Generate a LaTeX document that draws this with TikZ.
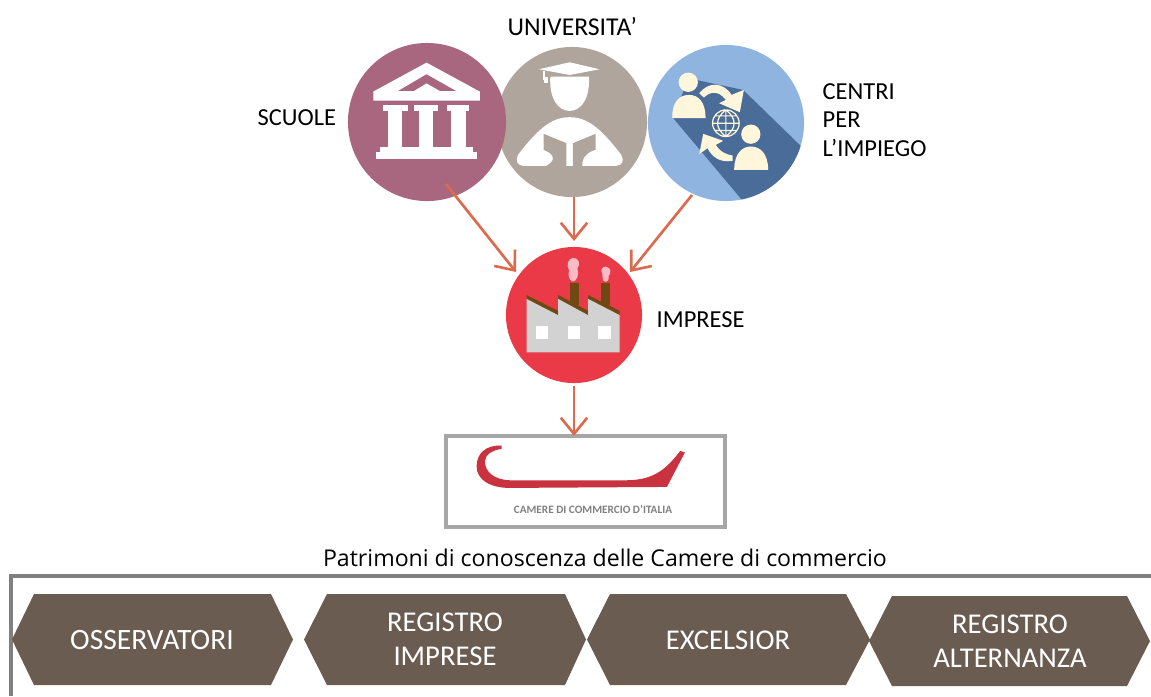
\documentclass[tikz,border=0pt]{standalone}
\usepackage{fontspec}
\setmainfont{Carlito}
\newfontfamily\opensans{Open Sans}
\usetikzlibrary{arrows.meta}
\definecolor{plum}{HTML}{A8677F}
\definecolor{taupe}{HTML}{B0A59D}
\definecolor{skyb}{HTML}{8FB4E0}
\definecolor{deepb}{HTML}{4A6C99}
\definecolor{cream}{HTML}{FFF6DC}
\definecolor{firered}{HTML}{EA3A47}
\definecolor{chim}{HTML}{6E4A12}
\definecolor{smoke}{HTML}{F9BCC4}
\definecolor{fgrey}{HTML}{D2D2D2}
\definecolor{arrowc}{HTML}{DD6A4C}
\definecolor{hexc}{HTML}{6B5C52}
\definecolor{boxgrey}{HTML}{A6A6A6}
\definecolor{framegrey}{HTML}{808080}
\definecolor{logored}{HTML}{C9323F}
\tikzset{
  px/.style={x=0.01cm,y=-0.01cm},
  zoomed/.style={x=0.0033333cm,y=-0.0033333cm},
  disc/.style={circle,inner sep=0pt,outer sep=0pt,minimum size=#1},
  lab/.style={font=\fontsize{6.95pt}{8.1pt}\selectfont,text=black,inner sep=0pt,align=left},
  conn/.style={draw=arrowc,line width=0.75pt,-{Straight Barb[length=4.6pt,width=7.5pt,line width=0.75pt]}},
  hexlab/.style={font=\fontsize{8.15pt}{9.65pt}\selectfont,text=white,inner sep=0pt,align=center},
  hexfill/.style={fill=hexc},
}
\newcommand{\hexa}[6]{\fill[hexfill] (#1,#5/2+#6/2) -- (#2,#5) -- (#3,#5) -- (#4,#5/2+#6/2) -- (#3,#6) -- (#2,#6) -- cycle;}
\begin{document}
\begin{tikzpicture}[px]
\useasboundingbox (0,0) rectangle (1151,696);
% circles
\node[disc=1.50cm,fill=taupe] (uni) at (572,122) {};
\node[disc=1.58cm,fill=plum] (sc) at (427,122) {};
\node[disc=1.56cm,fill=skyb] (ce) at (726,123) {};
\node[disc=1.36cm,fill=firered] (fa) at (574,315) {};
% temple
\begin{scope}[shift={(340,30)},zoomed]
\fill[white] (100,212) -- (100,185) -- (260,98) -- (420,185) -- (420,212) -- cycle;
\fill[plum] (175,183) -- (260,133) -- (348,183) -- (300,183) -- (260,160) -- (222,183) -- cycle;
\fill[white] (130,225) rectangle (205,242);
\fill[white] (222,225) rectangle (293,242);
\fill[white] (322,225) rectangle (388,242);
\fill[white] (143,242) rectangle (185,352);
\fill[white] (236,242) rectangle (280,352);
\fill[white] (335,242) rectangle (378,352);
\fill[white] (120,352) rectangle (400,368);
\fill[white] (107,368) rectangle (413,388);
% student
\fill[white] (632,140) -- (748,140) .. controls (752,205) and (725,243) .. (690,243) .. controls (655,243) and (628,205) .. (632,140) -- cycle;
\fill[white] (598,118) -- (690,97) -- (780,118) -- (690,135) -- cycle;
\fill[white] (610,122) rectangle (615,150);
\fill[white] (612,140) rectangle (624,158);
\fill[white] (690,262) .. controls (640,262) and (600,290) .. (535,375) .. controls (525,392) and (535,408) .. (550,408) -- (830,408) .. controls (848,408) and (855,392) .. (845,375) .. controls (780,290) and (740,262) .. (690,262) -- cycle;
\fill[taupe] (612,312) -- (680,340) -- (680,408) -- (620,408) .. controls (645,395) and (650,375) .. (612,360) -- cycle;
\fill[taupe] (768,312) -- (700,340) -- (700,408) -- (728,408) .. controls (725,385) and (745,365) .. (768,360) -- cycle;
\end{scope}
% employment centres icon
\begin{scope}
\clip (ce) circle (78);
\begin{scope}[shift={(640,35)},zoomed]
\fill[deepb] (145,130) -- (310,165) -- (490,340) -- (490,500) -- (310,500) -- (100,250) -- cycle;
\fill[cream] (145,142) circle (29);
\fill[cream] (97,250) .. controls (95,200) and (120,180) .. (147,180) .. controls (175,180) and (197,200) .. (197,250) -- cycle;
\fill[cream] (333,298) circle (29);
\fill[cream] (283,405) .. controls (283,355) and (308,335) .. (333,335) .. controls (360,335) and (385,355) .. (385,405) -- cycle;
\fill[cream] (178,175) .. controls (205,140) and (250,140) .. (275,180) -- (312,165) -- (300,232) -- (238,205) -- (258,195) .. controls (235,165) and (210,170) .. (192,188) -- cycle;
\fill[cream] (278,378) .. controls (240,385) and (215,365) .. (203,340) -- (178,358) -- (190,297) -- (250,318) -- (228,330) .. controls (240,350) and (255,358) .. (278,362) -- cycle;
\fill[deepb] (258,265) circle (42);
\draw[cream,line width=0.35pt] (258,265) circle (40) (218,265) -- (298,265) (258,225) -- (258,305) (226,243) -- (290,243) (226,287) -- (290,287) (258,225) .. controls (225,250) and (225,280) .. (258,305) (258,225) .. controls (291,250) and (291,280) .. (258,305);
\end{scope}
\end{scope}
% factory
\begin{scope}[shift={(430,230)},zoomed]
\fill[smoke] (430,84) .. controls (450,85) and (452,105) .. (443,115) .. controls (450,135) and (440,155) .. (428,155) .. controls (415,150) and (415,130) .. (418,122) .. controls (408,105) and (415,85) .. (430,84) -- cycle;
\fill[smoke] (528,110) .. controls (545,112) and (545,130) .. (537,138) .. controls (540,150) and (530,158) .. (525,155) .. controls (515,150) and (520,140) .. (518,132) .. controls (510,120) and (518,110) .. (528,110) -- cycle;
\fill[chim] (420,160) rectangle (447,225);
\fill[chim] (515,160) rectangle (542,225);
\fill[chim] (290,195) -- (385,243) -- (385,256) -- (290,207) -- cycle;
\fill[chim] (385,195) -- (475,243) -- (475,256) -- (385,207) -- cycle;
\fill[chim] (475,195) -- (570,243) -- (570,256) -- (475,207) -- cycle;
\fill[fgrey] (290,207) -- (385,256) -- (385,207) -- (475,256) -- (475,207) -- (570,256) -- (570,368) -- (290,368) -- cycle;
\fill[white] (318,288) rectangle (356,326);
\fill[white] (414,288) rectangle (452,326);
\fill[white] (506,288) rectangle (544,326);
% logo swoosh
\fill[logored] (215,648) .. controls (170,645) and (140,670) .. (140,710) .. controls (140,750) and (180,775) .. (240,775) -- (712,772) -- (766,668) -- (752,664) .. controls (715,710) and (680,752) .. (590,752) -- (240,752) .. controls (190,750) and (165,725) .. (165,695) .. controls (165,675) and (190,660) .. (215,658) -- cycle;
\end{scope}
% box
\node[draw=boxgrey,line width=1.1pt,minimum width=2.79cm,minimum height=0.91cm,inner sep=0pt,outer sep=0pt] (cam) at (585.5,481.5) {};
\node[font=\fontsize{3.2pt}{3.5pt}\selectfont\bfseries,text=gray,inner sep=0pt] (camt) at (593,509) {CAMERE DI COMMERCIO D'ITALIA};
% labels
\node[lab,anchor=west] (l1) at (257,118) {SCUOLE};
\node[lab,anchor=west,font=\fontsize{7.3pt}{8.1pt}\selectfont] (l2) at (507,27) {UNIVERSITA’};
\node[lab,anchor=west] (l3) at (822,120) {CENTRI\\PER\\L’IMPIEGO};
\node[lab,anchor=west] (l4) at (656,320) {IMPRESE};
% connectors
\coordinate (s1) at (446,184);
\coordinate (e1) at (516,272);
\coordinate (s2) at (574,197);
\coordinate (e2) at (574,241);
\coordinate (s3) at (692,195);
\coordinate (e3) at (630,272);
\coordinate (s4) at (574,386);
\draw[conn] (s1) -- (e1);
\draw[conn] (s2) -- (e2);
\draw[conn] (s3) -- (e3);
\draw[conn] (s4) -- (cam.north -| s4);
% bottom
\node[font=\opensans\fontsize{6.57pt}{8pt}\selectfont,inner sep=0pt,text=black] (pat) at (605,558) {Patrimoni di conoscenza delle Camere di commercio};
\coordinate (fa1) at (11,696);
\coordinate (fa2) at (11,576);
\coordinate (fa3) at (1151,576);
\draw[framegrey,line width=1.1pt] (fa1) -- (fa2) -- (fa3);
\hexa{12}{34}{271}{293}{594}{685}
\hexa{304}{327}{565}{586}{594}{685}
\hexa{587}{610}{846}{870}{594}{685}
\hexa{869}{892}{1127}{1150}{596}{686}
\node[hexlab,font=\fontsize{8.4pt}{9.65pt}\selectfont] (h1) at (152,640) {OSSERVATORI};
\node[hexlab] (h2) at (445,639) {REGISTRO\\IMPRESE};
\node[hexlab] (h3) at (728,640) {EXCELSIOR};
\node[hexlab] (h4) at (1010,641) {REGISTRO\\ALTERNANZA};
\end{tikzpicture}
\end{document}
